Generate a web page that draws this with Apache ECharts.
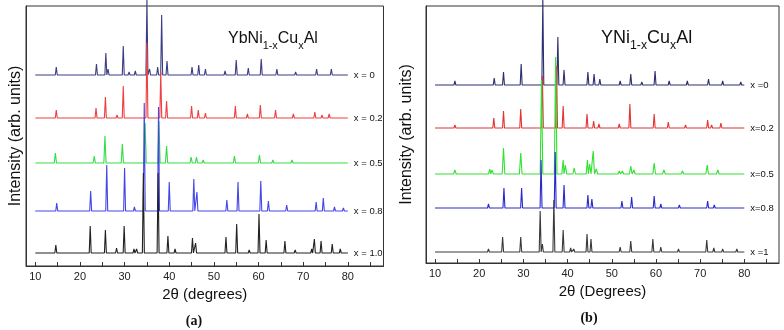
<!DOCTYPE html>
<html>
<head>
<meta charset="utf-8">
<script src="https://cdn.jsdelivr.net/npm/echarts@6/dist/echarts.min.js"></script>
<style>
  html, body { margin: 0; padding: 0; background: #fff; }
  #chart { width: 784px; height: 330px; }
</style>
</head>
<body>
<div id="chart"></div>
<script>
// tick marks every 5 deg, labels every 10 deg
const tickValues = [10, 15, 20, 25, 30, 35, 40, 45, 50, 55, 60, 65, 70, 75, 80, 85]
const labelValues = [10, 20, 30, 40, 50, 60, 70, 80]

// (a) YbNi1-xCuxAl : labels, vertical offsets, peaks [2theta, height]
const namesA = ['x = 0', 'x = 0.2', 'x = 0.5', 'x = 0.8', 'x = 1.0']
const offsetsA = [191, 148, 103, 55, 13]
const peaksA0 = [[14.7,8],[22.0,2],[23.7,11],[25.8,22],[26.3,6],[29.7,29],[31.0,3],[32.4,4],[35.0,76],[35.6,6],[37.4,8],[38.3,60],[39.5,14],[45.1,8],[46.6,10],[48.1,6],[49.5,2],[52.5,4],[55.0,15],[57.7,7],[60.6,16],[64.1,6],[68.3,3],[70.5,2],[73.0,6],[76.3,6],[79.0,2]]
const peaksA1 = [[14.7,8],[23.6,10],[25.7,21],[28.3,3],[29.7,32],[32.0,2],[35.0,75],[38.1,46],[39.4,17],[45.0,12],[46.5,8],[48.1,5],[52.5,2],[54.8,12],[57.5,4],[60.4,13],[63.8,8],[67.8,4],[72.6,6],[74.2,3],[75.8,4],[79.0,2]]
const peaksA2 = [[14.5,10],[23.2,7],[25.6,27],[29.5,19],[32.0,2],[34.6,40],[37.7,42],[39.4,17],[41.5,2],[44.9,6],[46.1,6],[47.6,3],[54.6,7],[60.2,8],[63.2,3],[67.5,3],[72.3,2],[75.2,2]]
const peaksA3 = [[14.8,8],[22.4,20],[26.0,46],[30.0,43],[32.2,4],[34.4,108],[37.6,104],[40.0,29],[41.5,2],[45.5,32],[46.2,19],[49.2,2],[51.2,2],[52.9,11],[55.4,29],[58.0,2],[60.5,30],[62.2,10],[66.3,6],[68.6,2],[72.9,9],[74.5,13],[77.0,4],[79.0,3]]
const peaksA4 = [[14.6,8],[22.3,27],[25.7,23],[28.2,5],[29.9,27],[32.1,4],[32.7,4],[34.2,80],[37.5,80],[39.7,17],[41.3,4],[45.2,15],[45.9,10],[51.0,2],[52.7,16],[55.1,29],[57.9,3],[60.1,39],[61.7,13],[65.9,12],[68.2,3],[71.9,4],[72.5,14],[74.0,12],[76.5,9],[78.3,4],[79.5,2]]

// (b) YNi1-xCuxAl
const namesB = ['x =0', 'x=0.2', 'x=0.5', 'x=0.8', 'x =1']
const offsetsB = [178, 135, 89, 55, 11]
const peaksB0 = [[14.5,4],[23.4,7],[25.5,13],[29.5,21],[34.4,86],[37.8,48],[39.2,15],[42.2,2],[44.6,13],[46.0,11],[47.3,6],[51.9,4],[54.3,11],[56.8,3],[59.8,14],[63.0,4],[67.1,4],[71.9,6],[73.0,2],[75.1,4],[76.1,2],[79.2,3]]
const peaksB1 = [[14.5,3],[23.3,10],[25.5,17],[29.4,19],[34.3,52],[37.5,62],[39.0,22],[41.7,2],[44.4,14],[45.9,7],[47.1,4],[51.7,4],[54.1,24],[56.4,2],[59.6,14],[62.8,6],[66.7,3],[71.7,8],[72.6,3],[74.7,5],[75.9,2],[79.0,2]]
const peaksB2 = [[14.5,4],[22.4,5],[22.9,4],[25.5,26],[29.4,21],[31.5,2],[34.1,94],[37.3,117],[39.0,14],[39.5,9],[41.5,6],[44.5,14],[45.0,10],[45.8,23],[46.5,5],[51.7,3],[52.4,3],[54.3,8],[55.0,4],[59.6,11],[61.8,4],[66.0,3],[71.6,9],[74.0,4],[78.3,2]]
const peaksB3 = [[14.6,2],[22.1,4],[25.6,20],[29.6,20],[34.0,48],[37.2,56],[39.2,23],[41.5,2],[44.6,13],[45.5,9],[52.3,7],[54.5,11],[59.6,12],[61.1,4],[65.3,3],[71.7,7],[73.2,3],[75.2,2],[78.6,2]]
const peaksB4 = [[14.5,1],[22.1,3],[25.3,15],[29.4,15],[33.8,41],[34.3,8],[36.9,52],[39.0,22],[40.7,4],[41.4,3],[44.4,18],[45.3,13],[51.9,5],[54.3,11],[59.3,13],[61.1,5],[65.1,3],[71.5,12],[73.1,4],[75.1,3],[77.4,2],[78.3,3]]

const colorsA = ['#3d3d85', '#ee4040', '#33dd44', '#4646e6', '#222222']
const colorsB = ['#2e2e70', '#e23434', '#33e033', '#2a2acc', '#3a3a3a']
const halfWidthA = [0.22, 0.22, 0.25, 0.22, 0.22]
const halfWidthB = [0.22, 0.22, 0.3, 0.22, 0.22]

const font = '"Liberation Sans", Arial, sans-serif'

// one diffraction pattern: flat baseline from 10 to 80 deg with a sharp spike per peak
function pattern(peaks, base, w) {
  let pts = [[10, base], [80, base]]
  peaks.forEach(p => {
    pts.push([p[0] - w, base], [p[0], base + p[1]], [p[0] + w, base])
  })
  pts.sort((a, b) => a[0] - b[0])
  return pts
}

function makeSeries(names, offsets, peaksList, colors, widths, idx) {
  return names.map((n, i) => ({
    name: n,
    type: 'line',
    xAxisIndex: idx,
    yAxisIndex: idx,
    showSymbol: false,
    clip: false,
    animation: false,
    lineStyle: { width: 1.1, color: colors[i] },
    itemStyle: { color: colors[i] },
    endLabel: {
      show: true,
      formatter: n,
      distance: 6,
      color: '#111',
      fontSize: 9.5,
      fontFamily: font
    },
    data: pattern(peaksList[i], offsets[i], widths[i])
  }))
}

function xAx(idx, min, max, name, gap) {
  return {
    gridIndex: idx, type: 'value', min: min, max: max,
    name: name, nameLocation: 'middle', nameGap: gap,
    nameTextStyle: { fontSize: 15, color: '#111', fontFamily: font },
    axisLine: { lineStyle: { color: '#333', width: 1 } },
    axisTick: { inside: true, length: 4, customValues: tickValues, lineStyle: { color: '#333' } },
    axisLabel: { customValues: labelValues, fontSize: 11, color: '#222', margin: 5, fontFamily: font },
    splitLine: { show: false }
  }
}

function yAx(idx, max, gap) {
  return {
    gridIndex: idx, type: 'value', min: 0, max: max,
    name: 'Intensity (arb. units)', nameLocation: 'middle', nameRotate: 90, nameGap: gap,
    nameTextStyle: { fontSize: 16, color: '#111', fontFamily: font },
    axisLine: { show: true, lineStyle: { color: '#333', width: 1 } },
    axisTick: { show: false },
    axisLabel: { show: false },
    splitLine: { show: false }
  }
}

const rich = size => ({
  m: { fontSize: size, fontWeight: 'normal', color: '#111', fontFamily: font },
  s: { fontSize: size * 0.68, fontWeight: 'normal', color: '#111', fontFamily: font, padding: [size * 0.95, 0, 0, 0] }
})

const chart = echarts.init(document.getElementById('chart'), null, { renderer: 'canvas' })
chart.setOption({
  backgroundColor: '#fff',
  animation: false,
  title: [
    { text: '{m|YbNi}{s|1-x}{m|Cu}{s|x}{m|Al}', left: 228, top: 25, padding: 0, textStyle: { fontWeight: 'normal', rich: rich(16) } },
    { text: '{m|YNi}{s|1-x}{m|Cu}{s|x}{m|Al}', left: 601, top: 23, padding: 0, textStyle: { fontWeight: 'normal', rich: rich(18) } }
  ],
  grid: [
    { left: 26, top: 6, width: 357.5, height: 260, show: true, borderColor: '#333', borderWidth: 1, outerBoundsMode: 'none' },
    { left: 426, top: 6, width: 353, height: 257, show: true, borderColor: '#333', borderWidth: 1, outerBoundsMode: 'none' }
  ],
  xAxis: [
    xAx(0, 7.92, 87.98, '2\u03b8 (degrees)', 19),
    xAx(1, 7.96, 87.85, '2\u03b8 (Degrees)', 21)
  ],
  yAxis: [yAx(0, 260, 2), yAx(1, 257, 11)],
  graphic: [
    { type: 'text', x: 194, y: 321, style: { text: '(a)', fontSize: 14, fontWeight: 'bold', fontFamily: '"Liberation Serif", serif', fill: '#111', align: 'center', verticalAlign: 'middle' } },
    { type: 'text', x: 589, y: 318, style: { text: '(b)', fontSize: 14, fontWeight: 'bold', fontFamily: '"Liberation Serif", serif', fill: '#111', align: 'center', verticalAlign: 'middle' } }
  ],
  series: [].concat(
    makeSeries(namesA, offsetsA, [peaksA0, peaksA1, peaksA2, peaksA3, peaksA4], colorsA, halfWidthA, 0),
    makeSeries(namesB, offsetsB, [peaksB0, peaksB1, peaksB2, peaksB3, peaksB4], colorsB, halfWidthB, 1)
  )
})
</script>
</body>
</html>
